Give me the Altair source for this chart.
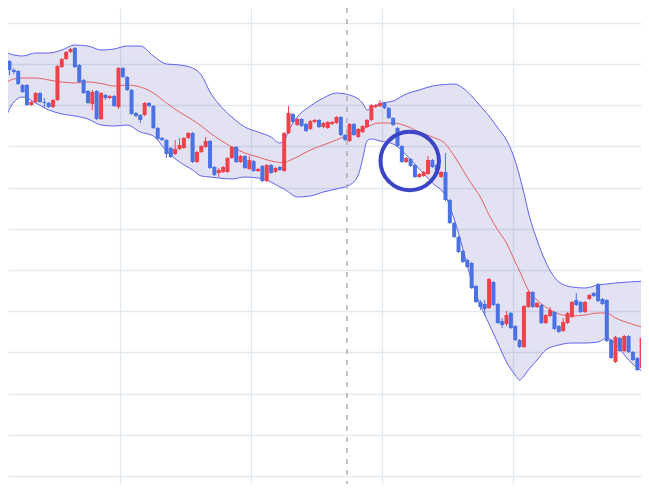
import altair as alt
import pandas as pd

# ---------------- candle data (index, OHLC) ----------------
idx = list(range(147))
opens = [41.7, 43.9, 43.0, 42.9, 41.5, 41.5, 39.5, 39.8, 40.7, 39.8,
         39.7, 39.3, 40.0, 43.3, 44.1, 44.8, 45.2, 43.5, 42.0, 40.9,
         39.6, 40.9, 38.1, 40.5, 40.2, 40.4, 39.3, 43.2, 42.3, 41.0,
         38.7, 38.5, 38.5, 39.7, 39.4, 37.2, 36.2, 36.0, 35.2, 34.6,
         35.1, 35.2, 36.2, 36.7, 33.8, 34.8, 35.3, 35.9, 33.3, 32.7,
         32.8, 32.8, 34.2, 35.3, 33.8, 34.4, 33.1, 33.9, 32.9, 33.4,
         31.9, 33.5, 32.8, 33.3, 32.9, 36.7, 38.6, 37.5, 38.1, 37.6,
         37.1, 37.8, 38.0, 37.3, 37.2, 37.6, 37.7, 38.3, 36.5, 35.9,
         37.6, 36.3, 36.8, 37.3, 38.0, 39.3, 39.4, 39.7, 39.2, 38.2,
         37.2, 35.4, 33.8, 34.1, 33.5, 32.3, 32.4, 32.6, 34.0, 33.5,
         32.3, 32.8, 30.0, 27.7, 26.3, 24.9, 24.0, 23.7, 21.4, 19.8,
         19.6, 19.2, 21.8, 19.6, 17.9, 17.6, 18.7, 17.4, 16.0, 15.3,
         19.3, 20.8, 19.3, 19.5, 17.7, 18.4, 18.8, 17.4, 16.9, 17.7,
         18.3, 20.0, 19.8, 18.8, 20.1, 20.7, 21.6, 20.1, 20.0, 16.0,
         13.8, 16.2, 14.9, 16.4, 14.8, 14.2, 13.2]
closes = [43.8, 43.0, 42.8, 41.6, 40.8, 39.5, 39.8, 40.7, 39.8, 39.7,
          39.3, 40.0, 43.4, 44.1, 44.8, 45.1, 43.3, 41.8, 40.7, 39.7,
          40.8, 38.1, 40.7, 40.2, 40.4, 39.4, 43.2, 42.3, 41.0, 38.6,
          38.4, 38.0, 39.7, 39.4, 37.2, 36.1, 36.0, 34.6, 34.3, 35.1,
          35.5, 36.2, 36.7, 33.8, 34.8, 35.4, 35.9, 33.2, 32.5, 33.0,
          33.3, 34.2, 35.3, 33.8, 34.4, 33.2, 34.0, 32.9, 33.1, 31.9,
          33.5, 32.7, 33.2, 33.0, 36.7, 38.7, 37.8, 38.1, 37.4, 36.9,
          37.9, 38.0, 37.3, 37.7, 37.8, 37.8, 38.3, 36.5, 36.0, 37.6,
          36.5, 37.1, 37.4, 38.0, 39.5, 39.5, 39.7, 39.2, 38.2, 37.5,
          35.4, 33.8, 34.2, 33.4, 32.3, 32.6, 32.8, 34.0, 33.3, 32.6,
          32.8, 30.0, 27.7, 26.3, 24.8, 23.8, 23.3, 21.2, 19.8, 19.3,
          19.1, 22.1, 19.5, 17.7, 17.5, 18.5, 17.2, 16.0, 15.3, 19.4,
          20.8, 19.3, 19.7, 17.7, 18.5, 19.0, 17.1, 16.8, 17.8, 18.7,
          19.8, 19.5, 18.8, 19.8, 20.5, 20.4, 19.9, 19.6, 15.9, 14.2,
          16.3, 14.9, 16.4, 14.8, 14.0, 13.0, 16.2]
highs = [44.0, 44.0, 43.2, 43.0, 41.6, 41.6, 39.9, 40.8, 40.8, 40.2,
         39.8, 40.1, 43.5, 44.2, 44.9, 45.2, 45.3, 43.6, 42.1, 41.0,
         41.0, 41.0, 40.8, 40.6, 40.5, 40.5, 43.3, 43.3, 42.4, 41.1,
         38.8, 38.6, 39.8, 39.8, 39.5, 37.3, 36.3, 36.1, 35.3, 36.0,
         36.2, 36.3, 36.8, 36.8, 34.9, 35.5, 36.3, 36.0, 33.4, 33.2,
         33.4, 34.3, 35.4, 35.4, 34.5, 34.5, 34.4, 34.0, 33.2, 33.5,
         33.6, 33.6, 33.3, 33.4, 36.8, 39.4, 38.7, 38.2, 38.2, 37.7,
         38.0, 38.1, 38.1, 37.8, 37.9, 37.9, 38.4, 38.4, 36.6, 37.7,
         37.7, 37.2, 37.5, 38.1, 39.6, 39.6, 40.0, 39.8, 39.3, 38.3,
         37.3, 35.5, 34.3, 34.2, 33.6, 32.7, 32.9, 34.4, 34.1, 33.6,
         32.9, 34.7, 30.1, 27.8, 26.4, 25.0, 24.1, 23.8, 21.5, 20.0,
         20.0, 22.2, 21.9, 19.7, 18.2, 18.9, 18.8, 17.5, 16.1, 19.5,
         20.9, 20.9, 19.8, 19.6, 18.6, 19.3, 18.9, 17.5, 18.2, 18.8,
         19.9, 20.7, 19.9, 19.9, 20.6, 20.8, 21.7, 20.2, 20.1, 16.1,
         16.4, 16.3, 16.5, 16.5, 14.9, 14.3, 16.3]
lows = [41.5, 42.5, 42.6, 41.5, 40.7, 39.4, 39.4, 39.7, 39.7, 39.2,
        39.2, 39.2, 39.9, 43.2, 44.0, 44.7, 43.2, 41.7, 40.6, 39.6,
        39.0, 38.0, 38.0, 40.0, 40.1, 39.3, 39.1, 42.2, 40.9, 38.5,
        38.3, 37.7, 38.4, 39.3, 37.1, 36.0, 35.9, 34.2, 34.2, 34.5,
        35.0, 35.1, 36.1, 33.7, 33.7, 34.7, 35.2, 33.1, 32.4, 32.3,
        32.7, 32.7, 34.1, 33.7, 33.7, 33.1, 33.0, 32.8, 32.8, 31.8,
        31.8, 32.6, 32.7, 32.9, 32.8, 36.6, 37.7, 37.4, 37.3, 36.8,
        37.0, 37.7, 37.2, 37.2, 37.1, 37.5, 37.6, 36.4, 35.9, 35.8,
        36.4, 36.2, 36.7, 37.2, 37.9, 39.2, 39.3, 39.1, 38.1, 37.4,
        35.3, 33.7, 33.7, 33.3, 32.2, 32.2, 32.3, 32.5, 33.2, 32.5,
        32.2, 29.9, 27.6, 26.2, 24.7, 23.7, 23.2, 21.1, 19.7, 19.0,
        18.4, 19.1, 19.4, 17.6, 17.2, 17.4, 17.1, 15.9, 15.2, 15.2,
        19.2, 19.2, 19.2, 17.6, 17.6, 18.3, 17.0, 16.7, 16.8, 17.6,
        18.2, 19.4, 18.7, 18.7, 20.0, 20.3, 19.8, 19.5, 15.8, 14.1,
        13.7, 14.8, 14.8, 14.7, 13.9, 12.9, 13.1]

# ---------------- Bollinger band readings ----------------
band_idx = [0, 2, 4, 7, 10, 13, 16, 19, 22, 25, 28, 31, 34, 37, 40, 43, 45, 47,
            49, 52, 55, 58, 61, 63, 64, 65, 67, 70, 73, 76, 79, 81, 82, 83, 84,
            86, 89, 92, 95, 98, 101, 103, 105, 107, 109, 111, 113, 115, 117,
            118, 119, 120, 122, 124, 127, 130, 133, 136, 138, 140, 143, 147]
upper = [44.8, 44.5, 44.4, 44.7, 44.7, 45.0, 45.5, 45.4, 45.0, 45.1, 45.4, 45.4,
         44.4, 43.6, 43.5, 43.2, 42.5, 40.8, 39.6, 38.3, 37.3, 36.8, 36.3, 35.7,
         35.9, 36.9, 38.3, 39.4, 40.2, 40.7, 40.5, 40.1, 39.7, 39.0, 39.2, 39.65,
         39.9, 40.6, 41.0, 41.4, 41.55, 41.6, 41.2, 40.4, 39.4, 38.4, 37.2, 36.0,
         33.9, 32.4, 30.7, 28.8, 26.0, 23.8, 21.8, 21.3, 21.2, 21.5, 21.6, 21.7,
         21.8, 21.9]
middle = [41.7, 42.1, 42.2, 42.2, 42.0, 41.8, 41.7, 41.8, 41.65, 41.4, 41.5, 41.3,
          40.7, 39.7, 38.8, 38.0, 37.4, 36.7, 36.1, 35.3, 34.7, 34.3, 33.9, 33.75,
          33.7, 33.9, 34.3, 35.0, 35.5, 36.0, 36.6, 36.9, 37.1, 37.3, 37.5, 37.7,
          37.7, 37.4, 36.8, 36.3, 35.6, 34.4, 33.0, 31.6, 30.3, 28.5, 27.0, 25.7,
          23.8, 22.9, 21.9, 21.0, 20.0, 19.3, 18.6, 18.4, 18.5, 18.7, 18.7, 18.2,
          17.7, 17.2]
lower = [38.1, 39.8, 40.3, 39.7, 39.0, 38.6, 38.4, 38.1, 37.5, 37.4, 37.5, 36.8,
         36.4, 34.9, 33.8, 33.0, 32.4, 32.3, 32.2, 32.1, 32.3, 32.2, 31.8, 31.3,
         31.1, 30.8, 30.3, 30.4, 30.8, 31.1, 31.5, 32.5, 34.1, 35.9, 36.1, 35.9,
         35.6, 34.5, 33.1, 31.7, 30.4, 28.1, 25.1, 21.9, 19.5, 17.6, 15.7, 13.8,
         12.5, 12.0, 12.4, 13.0, 14.0, 15.0, 15.5, 15.7, 15.7, 15.8, 16.2, 15.6,
         14.0, 12.6]

# ---------------- annotations / grid ----------------
marker_i = [78.4]          # dashed vertical marker
circle_i = [92.8]          # highlighted region
circle_p = [33.9]
x_grid = [26.4, 56.4, 86.4, 116.4, 146.4]
y_grid = [2.4, 6.52, 10.64, 14.76, 18.88, 23.0, 27.12, 31.24, 35.36, 39.48, 43.6, 47.72]

UP, DOWN = "#ef424b", "#4a72e4"

candles = pd.DataFrame({"i": idx, "open": opens, "high": highs, "low": lows, "close": closes})
candles["dir"] = ["up" if c >= o else "down" for o, c in zip(opens, closes)]
band = pd.DataFrame({"i": band_idx, "upper": upper, "mid": middle, "lower": lower})

xs = alt.Scale(domain=[1.806, 144.7], nice=False, zero=False)
ys = alt.Scale(domain=[1.6, 49.2], nice=False, zero=False)
xaxis = alt.Axis(values=x_grid, grid=True, labels=False, ticks=False, domain=False,
                 title=None, gridColor="#e3e9f1", gridWidth=1.3)
yaxis = alt.Axis(values=y_grid, grid=True, labels=False, ticks=False, domain=False,
                 title=None, gridColor="#e3e9f1", gridWidth=1.3)

def X(field):
    return alt.X(field, type="quantitative", scale=xs, axis=xaxis)

def Y(field):
    return alt.Y(field, type="quantitative", scale=ys, axis=yaxis)

color = alt.Color("dir:N", scale=alt.Scale(domain=["up", "down"], range=[UP, DOWN]), legend=None)

fill = alt.Chart(band).mark_area(color="#7070c0", opacity=0.2, interpolate="monotone", clip=True).encode(
    x=X("i"), y=Y("upper"), y2="lower")
up_line = alt.Chart(band).mark_line(color="#6262ee", strokeWidth=1, interpolate="monotone", clip=True).encode(
    x=X("i"), y=Y("upper"))
lo_line = alt.Chart(band).mark_line(color="#6262ee", strokeWidth=1, interpolate="monotone", clip=True).encode(
    x=X("i"), y=Y("lower"))
mid_line = alt.Chart(band).mark_line(color="#e65f66", strokeWidth=1, interpolate="monotone", clip=True).encode(
    x=X("i"), y=Y("mid"))

vmark = alt.Chart(pd.DataFrame({"i": marker_i})).mark_rule(
    color="#aeaeae", strokeWidth=1.5, strokeDash=[5, 6]).encode(x=X("i"))

wicks = alt.Chart(candles).mark_rule(strokeWidth=1, clip=True).encode(
    x=X("i"), y=Y("low"), y2="high", color=color)
bodies = alt.Chart(candles).mark_bar(size=4, clip=True).encode(
    x=X("i"), y=Y("open"), y2="close", color=color)

circle = alt.Chart(pd.DataFrame({"i": circle_i, "p": circle_p})).mark_point(
    shape="circle", size=3421, filled=False, strokeWidth=4, color="#3a45c6", opacity=1).encode(
    x=X("i"), y=Y("p"))

chart = alt.layer(fill, up_line, lo_line, mid_line, vmark, wicks, bodies, circle).properties(
    width=633, height=476, autosize=alt.AutoSizeParams(type="none"), padding=0
).configure_view(strokeWidth=0)

chart.save("out.html", embed_options={"renderer": "svg", "actions": False})
